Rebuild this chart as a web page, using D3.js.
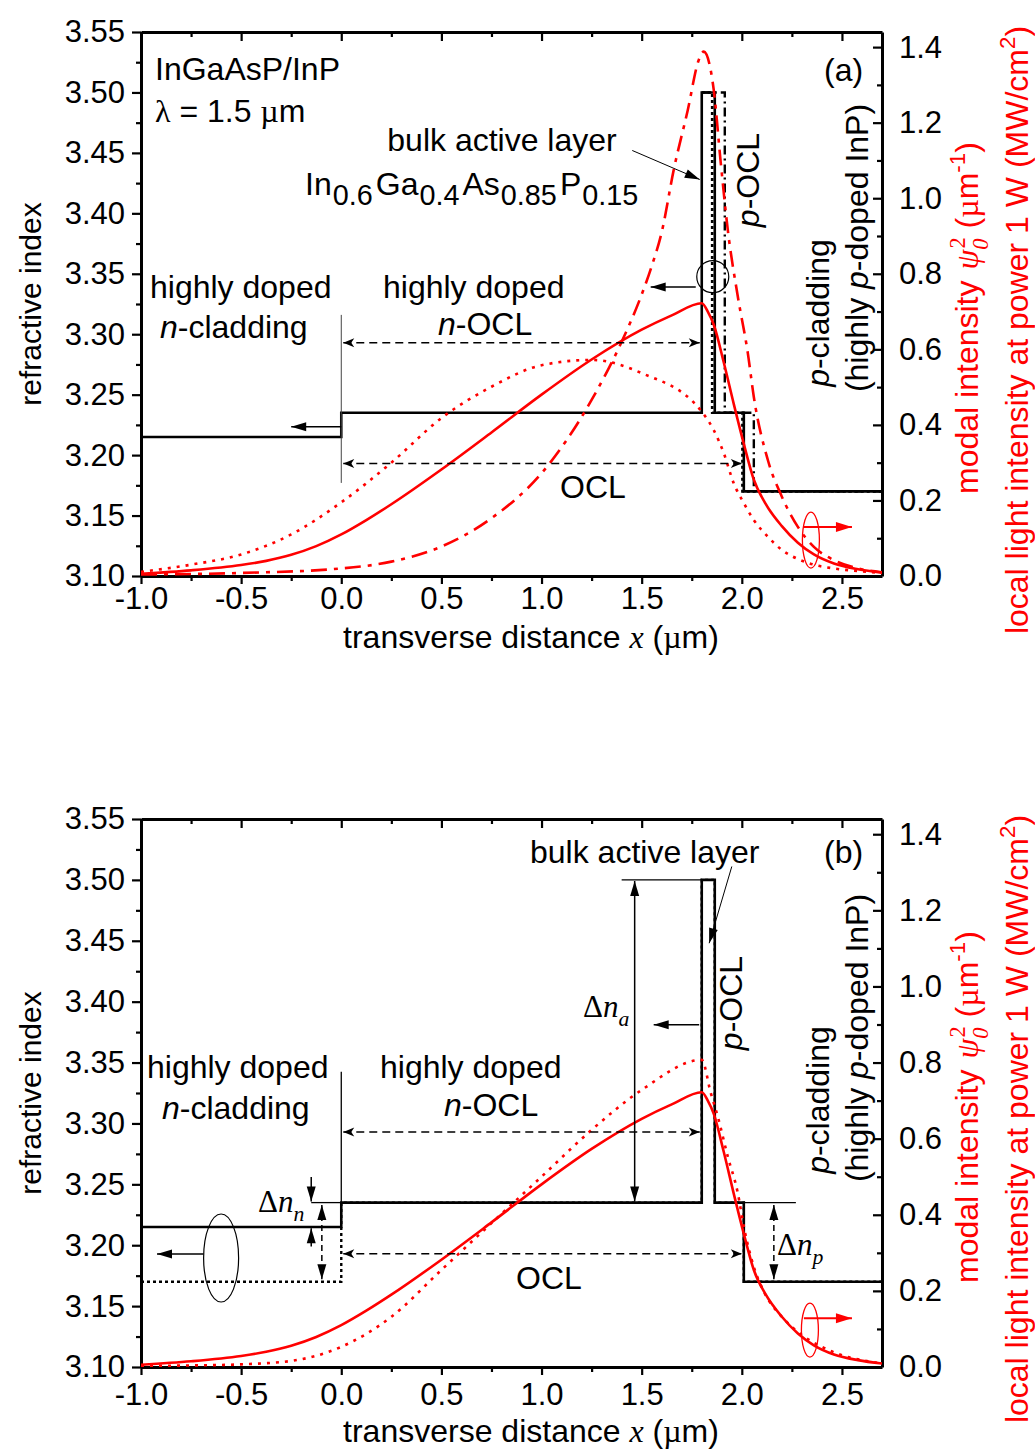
<!DOCTYPE html>
<html>
<head>
<meta charset="utf-8">
<script src="https://cdn.jsdelivr.net/npm/d3@7"></script>
<style>
body { margin:0; padding:0; background:#fff; }
text { font-family:"Liberation Sans", Arial, sans-serif; }
</style>
</head>
<body>
<svg id="chart" width="1035" height="1452"></svg>
<script>
// ---- axis ticks
var xTickVals = [-1.0, -0.5, 0.0, 0.5, 1.0, 1.5, 2.0, 2.5];
var xMinorVals = [-0.75, -0.25, 0.25, 0.75, 1.25, 1.75, 2.25];
var nTickVals = [3.10, 3.15, 3.20, 3.25, 3.30, 3.35, 3.40, 3.45, 3.50, 3.55];
var nMinorVals = [3.125, 3.175, 3.225, 3.275, 3.325, 3.375, 3.425, 3.475, 3.525];
var iTickVals = [0.0, 0.2, 0.4, 0.6, 0.8, 1.0, 1.2, 1.4];
var iMinorVals = [0.1, 0.3, 0.5, 0.7, 0.9, 1.1, 1.3];

// ---- refractive index profiles (layer edges in um, index per layer)
var solidEdges = [-1.0, 0.0, 1.80, 1.865, 2.01, 2.70];
var solidIndex = [3.215, 3.235, 3.50, 3.235, 3.17];
var dotEdgesA = [1.80, 1.852, 2.003, 2.70];
var dotIndexA = [3.50, 3.235, 3.17];
var dashDotEdgesA = [1.80, 1.915, 2.06, 2.70];
var dashDotIndexA = [3.50, 3.235, 3.17];
var dotEdgesB = [-1.0, 0.0, 1.80, 1.865, 2.01, 2.70];
var dotIndexB = [3.17, 3.235, 3.50, 3.235, 3.17];

// ---- modal intensity curves (um^-1)
var xSolid = [-1.0, -0.75, -0.5, -0.375, -0.25, -0.125, 0.0, 0.125, 0.25, 0.5, 0.75, 1.0, 1.25, 1.5, 1.65, 1.8, 1.83, 1.86, 1.91, 1.96, 2.01, 2.06, 2.12, 2.2, 2.28, 2.36, 2.46, 2.58, 2.7];
var ySolid = [0.006, 0.015, 0.029, 0.04, 0.056, 0.079, 0.11, 0.148, 0.19, 0.282, 0.38, 0.48, 0.573, 0.652, 0.69, 0.722, 0.70, 0.665, 0.565, 0.455, 0.35, 0.255, 0.19, 0.132, 0.088, 0.057, 0.033, 0.018, 0.009];

var xDotA = [-1.0, -0.75, -0.5, -0.25, 0.0, 0.25, 0.5, 0.75, 1.0, 1.25, 1.5, 1.8, 1.86, 1.91, 1.96, 2.01, 2.06, 2.13, 2.2, 2.28, 2.36, 2.46, 2.58, 2.7];
var yDotA = [0.011, 0.03, 0.057, 0.11, 0.195, 0.3, 0.418, 0.501, 0.558, 0.572, 0.537, 0.435, 0.386, 0.325, 0.245, 0.193, 0.148, 0.104, 0.069, 0.045, 0.03, 0.02, 0.013, 0.008];

var xDashDotA = [-1.0, -0.5, 0.0, 0.25, 0.5, 0.75, 1.0, 1.25, 1.4, 1.5, 1.55, 1.6, 1.66, 1.73, 1.785, 1.81, 1.86, 1.895, 1.93, 1.98, 2.03, 2.06, 2.13, 2.2, 2.28, 2.36, 2.46, 2.58, 2.7];
var yDashDotA = [0.004, 0.008, 0.02, 0.038, 0.078, 0.153, 0.272, 0.466, 0.62, 0.745, 0.82, 0.91, 1.075, 1.233, 1.366, 1.388, 1.286, 1.093, 0.916, 0.74, 0.59, 0.474, 0.307, 0.21, 0.13, 0.077, 0.042, 0.02, 0.01];

var xDotB = [-1.0, -0.75, -0.5, -0.25, 0.0, 0.25, 0.5, 0.75, 1.0, 1.25, 1.5, 1.8, 1.845, 1.88, 1.93, 1.98, 2.01, 2.06, 2.11, 2.2, 2.3, 2.4, 2.5, 2.6, 2.7];
var yDotB = [0.003, 0.004, 0.007, 0.016, 0.053, 0.132, 0.255, 0.378, 0.5, 0.623, 0.728, 0.807, 0.72, 0.658, 0.553, 0.457, 0.369, 0.263, 0.198, 0.132, 0.084, 0.053, 0.031, 0.018, 0.009];

var RED = "#ff0000";
var SERIF = "'Liberation Serif', 'Times New Roman', serif";
var FS = 32;
var TICK_FS = 31;

var svg = d3.select("#chart");
var X = d3.scaleLinear([-1, 2.7], [141, 882]);

var defs = svg.append("defs");
function marker(id, d, color) {
  defs.append("marker").attr("id", id)
    .attr("viewBox", "-18 -8 20 16").attr("refX", 0).attr("refY", 0)
    .attr("markerWidth", 20).attr("markerHeight", 16)
    .attr("markerUnits", "userSpaceOnUse").attr("orient", "auto-start-reverse")
    .append("path").attr("d", d).attr("fill", color);
}
marker("hFill", "M0,0 L-15,-4.5 L-15,4.5 Z", "#000");
marker("hStealth", "M0,0 L-11,-4.5 L-8,0 L-11,4.5 Z", "#000");
marker("hRed", "M0,0 L-16,-5 L-16,5 Z", RED);

function rich(g, x, y, parts, o) {
  o = o || {};
  var fs = o.size || FS;
  var t = g.append("text").attr("x", x).attr("y", y)
    .attr("font-size", fs).attr("fill", o.fill || "#000")
    .attr("text-anchor", o.anchor || "start");
  if (o.rotate) t.attr("transform", "rotate(-90 " + x + " " + y + ")");
  var shift = 0;
  parts.forEach(function(p) {
    if (typeof p === "string") p = {t: p};
    var want = p.sub ? fs * 0.3 : (p.sup ? -fs * 0.42 : 0);
    var ts = t.append("tspan").text(p.t);
    if (want !== shift) ts.attr("dy", want - shift);
    shift = want;
    if (p.sub || p.sup) ts.attr("font-size", fs * (p.scale || 0.7));
    if (p.it) ts.attr("font-style", "italic");
    if (p.serif) ts.attr("font-family", SERIF);
    if (p.dx) ts.attr("dx", p.dx);
  });
  return t;
}

function stepPoints(edges, idx) {
  var pts = idx.map(function(v, i) { return [edges[i], v]; });
  pts.push([edges[edges.length - 1], idx[idx.length - 1]]);
  return pts;
}

function drawPanel(top, bottom, cfg) {
  var g = svg.append("g");
  var yN = d3.scaleLinear([3.10, 3.55], [bottom, top]);
  var yI = d3.scaleLinear([0, 1.44], [bottom, top]);
  var fmt = function(d) { return d3.format(".2f")(d); };
  var fmt1 = function(d) { return d3.format(".1f")(d).replace("\u2212", "-"); };

  var clipId = "clip" + top;
  defs.append("clipPath").attr("id", clipId).append("rect")
    .attr("x", 141).attr("y", top).attr("width", 741).attr("height", bottom - top);

  function styleAxis(sel) {
    sel.select(".domain").attr("stroke-width", 3);
    sel.selectAll(".tick line").attr("stroke-width", 2.2);
    sel.selectAll("text").attr("font-size", TICK_FS).attr("font-family", "'Liberation Sans', Arial, sans-serif").attr("fill", "#000");
  }
  var ax;
  ax = g.append("g").attr("transform", "translate(0," + bottom + ")")
    .call(d3.axisBottom(X).tickValues(xTickVals).tickFormat(fmt1).tickSize(8).tickSizeOuter(0).tickPadding(cfg.xPad));
  styleAxis(ax);
  ax = g.append("g").attr("transform", "translate(0," + bottom + ")")
    .call(d3.axisBottom(X).tickValues(xMinorVals).tickFormat("").tickSize(5).tickSizeOuter(0));
  styleAxis(ax); ax.select(".domain").remove();
  ax = g.append("g").attr("transform", "translate(0," + top + ")")
    .call(d3.axisTop(X).tickValues(xTickVals).tickFormat("").tickSize(-9).tickSizeOuter(0));
  styleAxis(ax);
  ax = g.append("g").attr("transform", "translate(0," + top + ")")
    .call(d3.axisTop(X).tickValues(xMinorVals).tickFormat("").tickSize(-5).tickSizeOuter(0));
  styleAxis(ax); ax.select(".domain").remove();
  ax = g.append("g").attr("transform", "translate(141,0)")
    .call(d3.axisLeft(yN).tickValues(nTickVals).tickFormat(fmt).tickSize(9).tickSizeOuter(0).tickPadding(7));
  styleAxis(ax);
  ax = g.append("g").attr("transform", "translate(141,0)")
    .call(d3.axisLeft(yN).tickValues(nMinorVals).tickFormat("").tickSize(5).tickSizeOuter(0));
  styleAxis(ax); ax.select(".domain").remove();
  ax = g.append("g").attr("transform", "translate(882,0)")
    .call(d3.axisRight(yI).tickValues(iTickVals).tickFormat(fmt1).tickSize(-9).tickSizeOuter(0).tickPadding(17));
  styleAxis(ax);
  ax = g.append("g").attr("transform", "translate(882,0)")
    .call(d3.axisRight(yI).tickValues(iMinorVals).tickFormat("").tickSize(-5).tickSizeOuter(0));
  styleAxis(ax); ax.select(".domain").remove();

  // axis titles
  var mid = (top + bottom) / 2;
  rich(g, 41, mid, ["refractive index"], {rotate: true, anchor: "middle", size: 30});
  rich(g, 531, bottom + cfg.xTitleOff, ["transverse distance ", {t: "x", it: true, serif: true}, " (", {t: "\u00b5", serif: true}, "m)"], {anchor: "middle"});
  rich(g, 978, mid + cfg.rTitle1, ["modal intensity ", {t: "\u03c8", it: true, serif: true, dx: 2}, {t: "0", sub: true, it: true, serif: true}, {t: "2", sup: true, serif: true, dx: -10}, "  (", {t: "\u00b5", serif: true}, "m", {t: "-1", sup: true}, ")"], {rotate: true, anchor: "middle", fill: RED});
  rich(g, 1028, mid + cfg.rTitle2, ["local light intensity at power 1 W (MW/cm", {t: "2", sup: true}, ")"], {rotate: true, anchor: "middle", fill: RED});

  var lineN = d3.line().x(function(d) { return X(d[0]); }).y(function(d) { return yN(d[1]); }).curve(d3.curveStepAfter);
  var lineI = d3.line().x(function(d) { return X(d[0]); }).y(function(d) { return yI(d[1]); }).curve(d3.curveMonotoneX);
  var plot = g.append("g").attr("clip-path", "url(#" + clipId + ")");

  function arrow(x1, y1, x2, y2, o) {
    o = o || {};
    var l = g.append("line").attr("x1", x1).attr("y1", y1).attr("x2", x2).attr("y2", y2)
      .attr("stroke", o.color || "#000").attr("stroke-width", o.w || 1.5);
    if (o.dash) l.attr("stroke-dasharray", o.dash);
    if (o.end) l.attr("marker-end", "url(#" + o.end + ")");
    if (o.start) l.attr("marker-start", "url(#" + o.start + ")");
    return l;
  }

  return {g: g, plot: plot, yN: yN, yI: yI, lineN: lineN, lineI: lineI, arrow: arrow};
}

function curve(P, xs, ys, dash) {
  var p = P.plot.append("path").datum(xs.map(function(x, i) { return [x, ys[i]]; }))
    .attr("d", P.lineI).attr("fill", "none").attr("stroke", RED).attr("stroke-width", 2.6);
  if (dash) p.attr("stroke-dasharray", dash);
}
function profile(P, edges, idx, dash, w) {
  var p = P.plot.append("path").datum(stepPoints(edges, idx))
    .attr("d", P.lineN).attr("fill", "none").attr("stroke", "#000").attr("stroke-width", w || 2.6);
  if (dash) p.attr("stroke-dasharray", dash);
}

// ================= panel (a)
var A = drawPanel(32, 576, {xTitleOff: 72, xPad: 3, rTitle1: 14, rTitle2: 26});
(function(P) {
  var x = X, yN = P.yN, yI = P.yI, g = P.g;
  g.append("line").attr("x1", x(0)).attr("x2", x(0)).attr("y1", yN(3.316)).attr("y2", yN(3.177)).attr("stroke", "#444").attr("stroke-width", 1);
  profile(P, dashDotEdgesA, dashDotIndexA, "9,4,2,4", 2.4);
  profile(P, dotEdgesA, dotIndexA, "3,3", 2.6);
  profile(P, solidEdges, solidIndex);
  curve(P, xDashDotA, yDashDotA, "16,7,4,7");
  curve(P, xDotA, yDotA, "3,6");
  curve(P, xSolid, ySolid);
  P.arrow(x(0.0) + 2, yN(3.293), x(1.80) - 2, yN(3.293), {dash: "8,5", start: "hStealth", end: "hStealth"});
  P.arrow(x(0.0) + 2, yN(3.193), x(2.01) - 2, yN(3.193), {dash: "8,5", start: "hStealth", end: "hStealth"});
  P.arrow(x(0.0), yN(3.2234), x(-0.25), yN(3.2234), {end: "hFill"});
  g.append("ellipse").attr("cx", x(1.855)).attr("cy", yN(3.3476)).attr("rx", 16).attr("ry", 16)
    .attr("fill", "none").attr("stroke", "#000").attr("stroke-width", 1.2);
  P.arrow(x(1.77), yN(3.339), x(1.545), yN(3.339), {end: "hFill"});
  P.arrow(x(1.453), yN(3.452), x(1.79), yN(3.428), {end: "hFill", w: 1});
  g.append("ellipse").attr("cx", x(2.345)).attr("cy", yI(0.095)).attr("rx", 8.5).attr("ry", 28)
    .attr("fill", "none").attr("stroke", RED).attr("stroke-width", 1.3);
  P.arrow(x(2.31), yI(0.13), x(2.55), yI(0.13), {end: "hRed", color: RED, w: 2});
  rich(g, 155, 80, ["InGaAsP/InP"]);
  rich(g, 155, 122, [{t: "\u03bb", serif: true}, " = 1.5 ", {t: "\u00b5", serif: true}, "m"]);
  rich(g, 502, 151, ["bulk  active layer"], {anchor: "middle"});
  rich(g, 305, 195, ["In", {t: "0.6", sub: true, scale: 0.9, dx: 1}, {t: "Ga", dx: 3}, {t: "0.4", sub: true, scale: 0.9, dx: 1}, {t: "As", dx: 3}, {t: "0.85", sub: true, scale: 0.9, dx: 1}, {t: "P", dx: 3}, {t: "0.15", sub: true, scale: 0.9, dx: 1}]);
  rich(g, 824, 81, ["(a)"]);
  rich(g, 759, 180, [{t: "p", it: true}, "-OCL"], {rotate: true, anchor: "middle"});
  rich(g, 829, 313, [{t: "p", it: true}, "-cladding"], {rotate: true, anchor: "middle"});
  rich(g, 868, 248, ["(highly ", {t: "p", it: true}, "-doped InP)"], {rotate: true, anchor: "middle"});
  rich(g, 150, 298, ["highly doped"]);
  rich(g, 160, 338, [{t: "n", it: true}, "-cladding"]);
  rich(g, 383, 298, ["highly  doped"]);
  rich(g, 438, 335, [{t: "n", it: true}, "-OCL"]);
  rich(g, 560, 498, ["OCL"]);
})(A);

// ================= panel (b)
var B = drawPanel(819, 1367, {xTitleOff: 75, xPad: 8, rTitle1: 14, rTitle2: 26});
(function(P) {
  var x = X, yN = P.yN, yI = P.yI, g = P.g;
  g.append("line").attr("x1", x(0)).attr("x2", x(0)).attr("y1", yN(3.3425)).attr("y2", yN(3.215)).attr("stroke", "#000").attr("stroke-width", 1.3);
  g.append("line").attr("x1", x(-0.15)).attr("x2", x(0)).attr("y1", yN(3.235)).attr("y2", yN(3.235)).attr("stroke", "#000").attr("stroke-width", 1.3);
  g.append("line").attr("x1", x(1.40)).attr("x2", x(1.80)).attr("y1", yN(3.50)).attr("y2", yN(3.50)).attr("stroke", "#000").attr("stroke-width", 1.3);
  g.append("line").attr("x1", x(2.01)).attr("x2", x(2.27)).attr("y1", yN(3.235)).attr("y2", yN(3.235)).attr("stroke", "#000").attr("stroke-width", 1.3);
  profile(P, dotEdgesB, dotIndexB, "3,3", 2.4);
  profile(P, solidEdges, solidIndex);
  curve(P, xDotB, yDotB, "3,6");
  curve(P, xSolid, ySolid);
  P.arrow(x(0.0) + 2, yN(3.293), x(1.80) - 2, yN(3.293), {dash: "8,5", start: "hStealth", end: "hStealth"});
  P.arrow(x(0.0) + 2, yN(3.193), x(2.01) - 2, yN(3.193), {dash: "8,5", start: "hStealth", end: "hStealth"});
  P.arrow(x(-0.097), yN(3.233), x(-0.097), yN(3.172), {dash: "6,4", start: "hFill", end: "hFill"});
  P.arrow(x(2.16), yN(3.233), x(2.16), yN(3.172), {dash: "6,4", start: "hFill", end: "hFill"});
  P.arrow(x(-0.15), yN(3.256), x(-0.15), yN(3.236), {end: "hFill"});
  P.arrow(x(-0.15), yN(3.199), x(-0.15), yN(3.214), {end: "hFill"});
  P.arrow(x(1.465), yN(3.499), x(1.465), yN(3.236), {start: "hFill", end: "hFill"});
  g.append("ellipse").attr("cx", x(-0.6)).attr("cy", yN(3.1895)).attr("rx", 17.5).attr("ry", 44)
    .attr("fill", "none").attr("stroke", "#000").attr("stroke-width", 1.2);
  P.arrow(x(-0.6) - 17.5, yN(3.1928), x(-0.92), yN(3.1928), {end: "hFill"});
  P.arrow(x(1.787), yN(3.381), x(1.56), yN(3.381), {end: "hFill"});
  P.arrow(x(1.95), yN(3.511), x(1.837), yN(3.448), {end: "hFill", w: 1});
  g.append("ellipse").attr("cx", x(2.34)).attr("cy", yI(0.097)).attr("rx", 8.5).attr("ry", 27)
    .attr("fill", "none").attr("stroke", RED).attr("stroke-width", 1.3);
  P.arrow(x(2.31), yI(0.128), x(2.55), yI(0.128), {end: "hRed", color: RED, w: 2});
  rich(g, 530, 863, ["bulk active layer"]);
  rich(g, 824, 863, ["(b)"]);
  rich(g, 742, 1003, [{t: "p", it: true}, "-OCL"], {rotate: true, anchor: "middle"});
  rich(g, 829, 1100, [{t: "p", it: true}, "-cladding"], {rotate: true, anchor: "middle"});
  rich(g, 868, 1038, ["(highly ", {t: "p", it: true}, "-doped InP)"], {rotate: true, anchor: "middle"});
  rich(g, 147, 1078, ["highly doped"]);
  rich(g, 162, 1119, [{t: "n", it: true}, "-cladding"]);
  rich(g, 380, 1078, ["highly doped"]);
  rich(g, 444, 1116, [{t: "n", it: true}, "-OCL"]);
  rich(g, 516, 1289, ["OCL"]);
  rich(g, 583, 1017, [{t: "\u0394", serif: true}, {t: "n", it: true, serif: true}, {t: "a", sub: true, it: true, serif: true}], {size: 31});
  rich(g, 258, 1212, [{t: "\u0394", serif: true}, {t: "n", it: true, serif: true}, {t: "n", sub: true, it: true, serif: true}], {size: 31});
  rich(g, 777, 1255, [{t: "\u0394", serif: true}, {t: "n", it: true, serif: true}, {t: "p", sub: true, it: true, serif: true}], {size: 31});
})(B);
</script>
</body>
</html>
